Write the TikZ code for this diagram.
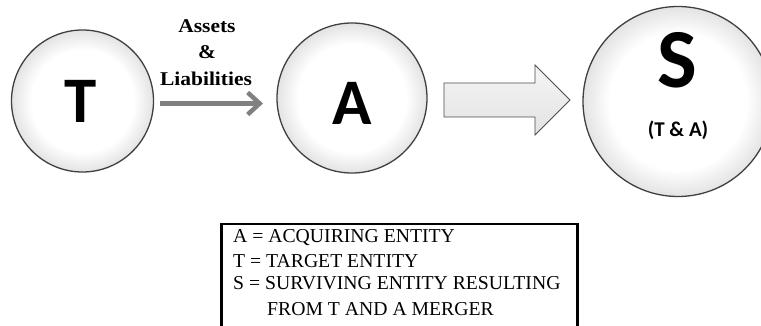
\documentclass[tikz,border=0pt]{standalone}
\usepackage{fontspec}
\setmainfont{Liberation Serif}
\newfontfamily\calfont{Carlito}
\usetikzlibrary{arrows.meta}
\pgfdeclareradialshading{ballshade}{\pgfpoint{0bp}{0bp}}{color(0bp)=(white); color(18bp)=(white); color(25bp)=(black!11); color(50bp)=(black!11)}
\begin{document}
\begin{tikzpicture}[x=1pt,y=-1pt,
  ball/.style={circle, draw=black!75, line width=1.3pt, shade, shading=ballshade, inner sep=0pt},
  bigletter/.style={anchor=base, inner sep=0pt, font=\calfont\bfseries\fontsize{65}{65}\selectfont},
  lbl/.style={anchor=base, inner sep=0pt, font=\bfseries\fontsize{19.5}{20}\selectfont},
  legendtext/.style={anchor=base west, inner sep=0pt, font=\fontsize{19.7}{20}\selectfont},
  blockarrow/.style={draw=black!70, line width=0.9pt, top color=black!4, bottom color=black!11, line join=miter},
  flow/.style={line width=4.5pt, black!50, -{Straight Barb[length=12pt,width=22pt]}}
]
\useasboundingbox (0,0) rectangle (761,326);
\fill[white] (0,0) rectangle (761,326);

% circles
\node[ball, minimum size=142pt] (T) at (82.5,101) {};
\node[ball, minimum size=150pt] (A) at (352,98) {};
\node[ball, minimum size=190pt] (S) at (678,101.5) {};

% letters
\node[bigletter] (Tl) at (81,123) {T};
\node[bigletter] (Al) at (352,125) {A};
\node[bigletter, font=\calfont\bfseries\fontsize{84}{84}\selectfont] (Sl) at (677.5,88) {S};
\node[anchor=base, inner sep=0pt, font=\calfont\bfseries\fontsize{21}{21}\selectfont] (TA) at (678,137) {(T \& A)};

% flow arrow with label
\coordinate (fstart) at (160,103.5);
\coordinate (fend) at (263,103.5);
\draw[flow] (fstart) -- (fend);
\node[lbl] (l1) at (207,33) {\scalebox{1.1}[1]{Assets}};
\node[lbl] (l2) at (207,59) {\scalebox{1.1}[1]{\&}};
\node[lbl] (l3) at (206,86) {\scalebox{1.1}[1]{Liabilities}};

% block arrow
\draw[blockarrow] (444,83) -- (535,83) -- (535,65) -- (570,100) -- (535,135) -- (535,117) -- (444,117) -- cycle;

% legend box
\node[draw, line width=2.5pt, minimum width=356pt, minimum height=103pt, anchor=north west, inner sep=0pt] (legend) at (220,223) {};
\node[legendtext] (lA) at (233,243) {A = ACQUIRING ENTITY};
\node[legendtext] (lT) at (233,267) {T = TARGET ENTITY};
\node[legendtext] (lS) at (233,289) {S = SURVIVING ENTITY RESULTING};
\node[legendtext] (lS2) at (267,315) {FROM T AND A MERGER};
\end{tikzpicture}
\end{document}
